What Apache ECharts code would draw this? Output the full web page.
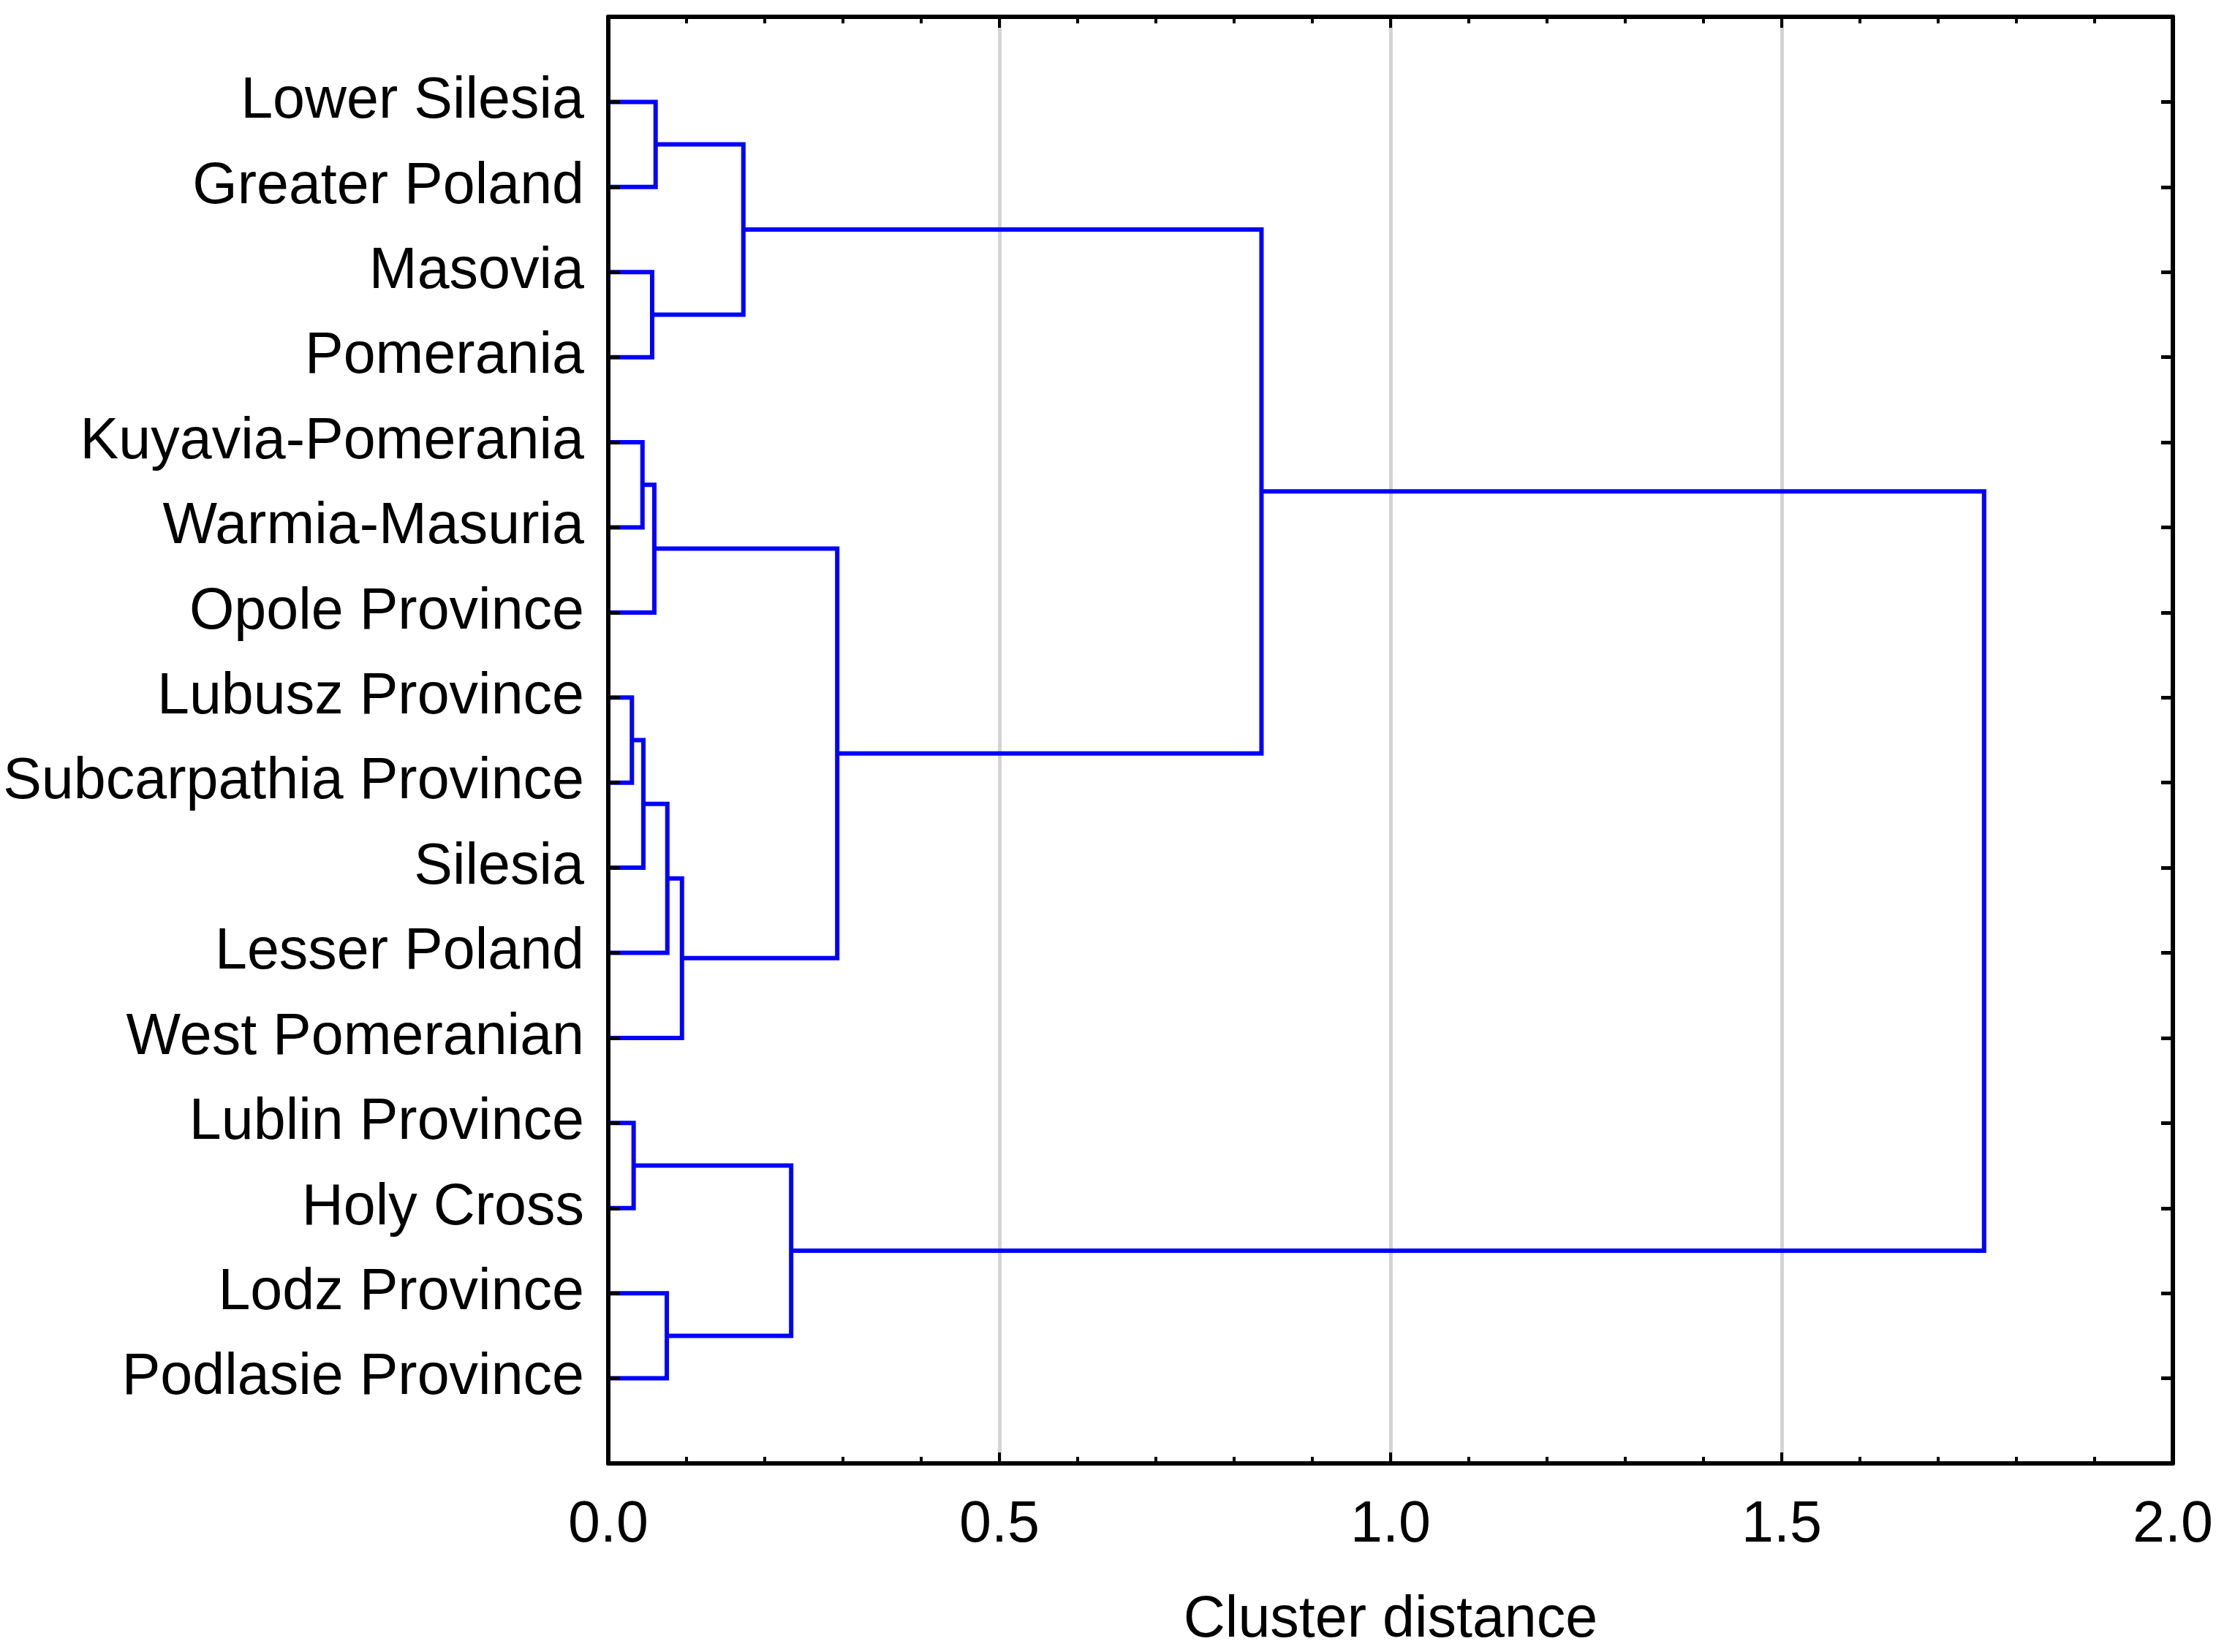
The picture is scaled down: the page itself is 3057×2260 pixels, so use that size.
<!DOCTYPE html>
<html>
<head>
<meta charset="utf-8">
<script src="https://cdn.jsdelivr.net/npm/echarts@6/dist/echarts.min.js"></script>
<style>
  html, body { margin: 0; padding: 0; background: #ffffff; }
  #chart { width: 3057px; height: 2260px; }
</style>
</head>
<body>
<div id="chart"></div>
<script>
// Leaves, top to bottom
const leaves = [
  'Lower Silesia', 'Greater Poland', 'Masovia', 'Pomerania',
  'Kuyavia-Pomerania', 'Warmia-Masuria', 'Opole Province', 'Lubusz Province',
  'Subcarpathia Province', 'Silesia', 'Lesser Poland', 'West Pomeranian',
  'Lublin Province', 'Holy Cross', 'Lodz Province', 'Podlasie Province'
];
// Merges: indices < 16 are leaves, index 16+k is merge k
const mergeA = [0, 2, 16, 4, 19, 7, 21, 22, 23, 20, 18, 12, 14, 27, 26];
const mergeB = [1, 3, 17, 5, 6, 8, 9, 10, 11, 24, 25, 13, 15, 28, 29];
const mergeDist = [0.0605, 0.0561, 0.1727, 0.0437, 0.0589, 0.0302, 0.0449, 0.0755,
                   0.0942, 0.2927, 0.835, 0.0324, 0.0748, 0.2338, 1.7587];
const xTicks = ['0.0', '0.5', '1.0', '1.5', '2.0'];
const xTitle = 'Cluster distance';

// node positions (y = row index 1..16) and heights
const nodeY = [], nodeH = [];
leaves.forEach((l, i) => { nodeY.push(i + 1); nodeH.push(0); });
const links = [];
for (let k = 0; k < mergeA.length; k++) {
  const a = mergeA[k], b = mergeB[k], h = mergeDist[k];
  links.push([nodeH[a], nodeY[a], h, nodeY[b], nodeH[b]]);
  nodeY.push((nodeY[a] + nodeY[b]) / 2);
  nodeH.push(h);
}

const FONT = 'Liberation Sans, Arial, sans-serif';
const FRAME_W = 6;
const chart = echarts.init(document.getElementById('chart'));
const rowAxisBase = {
  type: 'value', min: 0, max: leaves.length + 1, interval: 1, inverse: true, z: 3,
  axisLine: { show: true, onZero: false, lineStyle: { color: '#000', width: FRAME_W } },
  axisTick: { show: true, inside: true, length: 16, lineStyle: { color: '#000', width: 5 } },
  splitLine: { show: false }
};
const distAxisBase = {
  type: 'value', min: 0, max: 2, interval: 0.5, z: 0,
  axisLine: { show: true, onZero: false, lineStyle: { color: '#000', width: FRAME_W } },
  axisTick: { show: true, inside: true, length: 15, lineStyle: { color: '#000', width: 4 } },
  minorTick: { show: true, splitNumber: 5, length: 9, lineStyle: { color: '#000', width: 4 } }
};
chart.setOption({
  animation: false,
  backgroundColor: '#ffffff',
  grid: { left: 832, right: 85, top: 23, bottom: 258, containLabel: false, outerBoundsMode: 'none' },
  xAxis: [
    Object.assign({}, distAxisBase, {
      position: 'bottom',
      name: xTitle, nameLocation: 'middle', nameGap: 176,
      nameTextStyle: { fontFamily: FONT, fontSize: 79, color: '#000' },
      axisLabel: { margin: 46, fontFamily: FONT, fontSize: 79, color: '#000',
        formatter: v => xTicks[Math.round(v / 0.5)] },
      splitLine: { show: true, lineStyle: { color: '#d4d4d4', width: 5 } }
    }),
    Object.assign({}, distAxisBase, {
      position: 'top',
      axisLabel: { show: false },
      splitLine: { show: false }
    })
  ],
  yAxis: [
    Object.assign({}, rowAxisBase, {
      position: 'left',
      axisLabel: { show: true, margin: 33, fontFamily: FONT, fontSize: 79, color: '#000',
        lineHeight: 79, padding: [14, 0, 0, 0],
        formatter: v => (v >= 1 && v <= leaves.length) ? leaves[v - 1] : '' }
    }),
    Object.assign({}, rowAxisBase, {
      position: 'right',
      axisLabel: { show: false }
    })
  ],
  series: [{
    type: 'custom',
    xAxisIndex: 0, yAxisIndex: 0,
    z: 2,
    data: links,
    encode: { x: [0, 2, 4], y: [1, 3] },
    renderItem: function (params, api) {
      const x1 = api.value(0), y1 = api.value(1), x = api.value(2), y2 = api.value(3), x2 = api.value(4);
      const pts = [api.coord([x1, y1]), api.coord([x, y1]), api.coord([x, y2]), api.coord([x2, y2])];
      return { type: 'polyline', shape: { points: pts },
        style: { stroke: '#0000ff', lineWidth: 6, fill: null, lineJoin: 'miter' } };
    }
  }]
});
</script>
</body>
</html>
